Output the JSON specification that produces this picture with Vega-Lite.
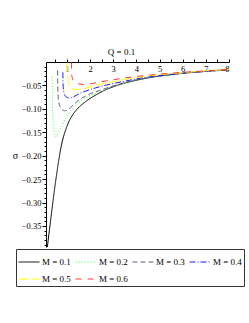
{
  "$schema": "https://vega.github.io/schema/vega-lite/v6.json",
  "autosize": {"type": "none"},
  "padding": {"left": 46, "top": 62, "right": 20, "bottom": 76},
  "width": 183,
  "height": 185,
  "background": "white",
  "title": {"text": "Q = 0.1", "font": "Liberation Serif", "fontSize": 9, "fontWeight": "normal", "color": "black", "dx": -16, "offset": 2},
  "data": {"values": [
    {"M": "M = 0.1", "r": 0.16, "s": -0.395},
    {"M": "M = 0.1", "r": 0.2, "s": -0.378},
    {"M": "M = 0.1", "r": 0.25, "s": -0.358},
    {"M": "M = 0.1", "r": 0.3, "s": -0.338},
    {"M": "M = 0.1", "r": 0.35, "s": -0.318},
    {"M": "M = 0.1", "r": 0.4, "s": -0.298},
    {"M": "M = 0.1", "r": 0.45, "s": -0.279},
    {"M": "M = 0.1", "r": 0.5, "s": -0.26},
    {"M": "M = 0.1", "r": 0.55, "s": -0.243},
    {"M": "M = 0.1", "r": 0.6, "s": -0.226},
    {"M": "M = 0.1", "r": 0.7, "s": -0.195},
    {"M": "M = 0.1", "r": 0.8, "s": -0.17},
    {"M": "M = 0.1", "r": 0.9, "s": -0.152},
    {"M": "M = 0.1", "r": 1.0, "s": -0.138},
    {"M": "M = 0.1", "r": 1.1, "s": -0.126},
    {"M": "M = 0.1", "r": 1.25, "s": -0.113},
    {"M": "M = 0.1", "r": 1.4, "s": -0.103},
    {"M": "M = 0.1", "r": 1.6, "s": -0.093},
    {"M": "M = 0.1", "r": 1.8, "s": -0.085},
    {"M": "M = 0.1", "r": 2.0, "s": -0.078},
    {"M": "M = 0.1", "r": 2.3, "s": -0.069},
    {"M": "M = 0.1", "r": 2.6, "s": -0.061},
    {"M": "M = 0.1", "r": 3.0, "s": -0.053},
    {"M": "M = 0.1", "r": 3.5, "s": -0.045},
    {"M": "M = 0.1", "r": 4.0, "s": -0.039},
    {"M": "M = 0.1", "r": 4.5, "s": -0.034},
    {"M": "M = 0.1", "r": 5.0, "s": -0.03},
    {"M": "M = 0.1", "r": 5.5, "s": -0.027},
    {"M": "M = 0.1", "r": 6.0, "s": -0.024},
    {"M": "M = 0.1", "r": 6.5, "s": -0.022},
    {"M": "M = 0.1", "r": 7.0, "s": -0.02},
    {"M": "M = 0.1", "r": 7.5, "s": -0.018},
    {"M": "M = 0.1", "r": 8.0, "s": -0.017},

    {"M": "M = 0.2", "r": 0.37, "s": -0.031},
    {"M": "M = 0.2", "r": 0.372, "s": -0.06},
    {"M": "M = 0.2", "r": 0.38, "s": -0.09},
    {"M": "M = 0.2", "r": 0.395, "s": -0.115},
    {"M": "M = 0.2", "r": 0.42, "s": -0.137},
    {"M": "M = 0.2", "r": 0.46, "s": -0.152},
    {"M": "M = 0.2", "r": 0.52, "s": -0.159},
    {"M": "M = 0.2", "r": 0.58, "s": -0.157},
    {"M": "M = 0.2", "r": 0.65, "s": -0.15},
    {"M": "M = 0.2", "r": 0.75, "s": -0.139},
    {"M": "M = 0.2", "r": 0.85, "s": -0.129},
    {"M": "M = 0.2", "r": 0.95, "s": -0.12},
    {"M": "M = 0.2", "r": 1.1, "s": -0.108},
    {"M": "M = 0.2", "r": 1.25, "s": -0.099},
    {"M": "M = 0.2", "r": 1.4, "s": -0.092},
    {"M": "M = 0.2", "r": 1.6, "s": -0.084},
    {"M": "M = 0.2", "r": 1.8, "s": -0.077},
    {"M": "M = 0.2", "r": 2.0, "s": -0.072},
    {"M": "M = 0.2", "r": 2.4, "s": -0.064},
    {"M": "M = 0.2", "r": 3.0, "s": -0.052},
    {"M": "M = 0.2", "r": 3.5, "s": -0.045},
    {"M": "M = 0.2", "r": 4.0, "s": -0.039},
    {"M": "M = 0.2", "r": 5.0, "s": -0.03},
    {"M": "M = 0.2", "r": 6.0, "s": -0.024},
    {"M": "M = 0.2", "r": 7.0, "s": -0.02},
    {"M": "M = 0.2", "r": 8.0, "s": -0.017},

    {"M": "M = 0.3", "r": 0.6, "s": -0.018},
    {"M": "M = 0.3", "r": 0.602, "s": -0.04},
    {"M": "M = 0.3", "r": 0.61, "s": -0.06},
    {"M": "M = 0.3", "r": 0.63, "s": -0.077},
    {"M": "M = 0.3", "r": 0.67, "s": -0.09},
    {"M": "M = 0.3", "r": 0.73, "s": -0.098},
    {"M": "M = 0.3", "r": 0.8, "s": -0.102},
    {"M": "M = 0.3", "r": 0.9, "s": -0.104},
    {"M": "M = 0.3", "r": 1.0, "s": -0.103},
    {"M": "M = 0.3", "r": 1.15, "s": -0.098},
    {"M": "M = 0.3", "r": 1.3, "s": -0.091},
    {"M": "M = 0.3", "r": 1.55, "s": -0.08},
    {"M": "M = 0.3", "r": 1.8, "s": -0.073},
    {"M": "M = 0.3", "r": 2.0, "s": -0.068},
    {"M": "M = 0.3", "r": 2.4, "s": -0.061},
    {"M": "M = 0.3", "r": 3.0, "s": -0.051},
    {"M": "M = 0.3", "r": 3.5, "s": -0.044},
    {"M": "M = 0.3", "r": 4.0, "s": -0.038},
    {"M": "M = 0.3", "r": 5.0, "s": -0.03},
    {"M": "M = 0.3", "r": 6.0, "s": -0.024},
    {"M": "M = 0.3", "r": 7.0, "s": -0.02},
    {"M": "M = 0.3", "r": 8.0, "s": -0.017},

    {"M": "M = 0.4", "r": 0.83, "s": -0.022},
    {"M": "M = 0.4", "r": 0.832, "s": -0.04},
    {"M": "M = 0.4", "r": 0.845, "s": -0.055},
    {"M": "M = 0.4", "r": 0.88, "s": -0.066},
    {"M": "M = 0.4", "r": 0.94, "s": -0.073},
    {"M": "M = 0.4", "r": 1.02, "s": -0.076},
    {"M": "M = 0.4", "r": 1.12, "s": -0.077},
    {"M": "M = 0.4", "r": 1.25, "s": -0.075},
    {"M": "M = 0.4", "r": 1.45, "s": -0.07},
    {"M": "M = 0.4", "r": 1.7, "s": -0.064},
    {"M": "M = 0.4", "r": 2.0, "s": -0.059},
    {"M": "M = 0.4", "r": 2.4, "s": -0.053},
    {"M": "M = 0.4", "r": 3.0, "s": -0.046},
    {"M": "M = 0.4", "r": 3.5, "s": -0.041},
    {"M": "M = 0.4", "r": 4.0, "s": -0.036},
    {"M": "M = 0.4", "r": 5.0, "s": -0.029},
    {"M": "M = 0.4", "r": 6.0, "s": -0.024},
    {"M": "M = 0.4", "r": 7.0, "s": -0.02},
    {"M": "M = 0.4", "r": 8.0, "s": -0.016},

    {"M": "M = 0.5", "r": 1.02, "s": -0.001},
    {"M": "M = 0.5", "r": 1.022, "s": -0.02},
    {"M": "M = 0.5", "r": 1.04, "s": -0.034},
    {"M": "M = 0.5", "r": 1.08, "s": -0.045},
    {"M": "M = 0.5", "r": 1.15, "s": -0.053},
    {"M": "M = 0.5", "r": 1.25, "s": -0.057},
    {"M": "M = 0.5", "r": 1.4, "s": -0.059},
    {"M": "M = 0.5", "r": 1.6, "s": -0.058},
    {"M": "M = 0.5", "r": 1.8, "s": -0.056},
    {"M": "M = 0.5", "r": 2.0, "s": -0.053},
    {"M": "M = 0.5", "r": 2.4, "s": -0.048},
    {"M": "M = 0.5", "r": 3.0, "s": -0.042},
    {"M": "M = 0.5", "r": 3.5, "s": -0.037},
    {"M": "M = 0.5", "r": 4.0, "s": -0.033},
    {"M": "M = 0.5", "r": 5.0, "s": -0.027},
    {"M": "M = 0.5", "r": 6.0, "s": -0.023},
    {"M": "M = 0.5", "r": 7.0, "s": -0.019},
    {"M": "M = 0.5", "r": 8.0, "s": -0.016},

    {"M": "M = 0.6", "r": 1.2, "s": -0.001},
    {"M": "M = 0.6", "r": 1.202, "s": -0.02},
    {"M": "M = 0.6", "r": 1.22, "s": -0.031},
    {"M": "M = 0.6", "r": 1.28, "s": -0.039},
    {"M": "M = 0.6", "r": 1.38, "s": -0.044},
    {"M": "M = 0.6", "r": 1.55, "s": -0.047},
    {"M": "M = 0.6", "r": 1.8, "s": -0.048},
    {"M": "M = 0.6", "r": 2.1, "s": -0.046},
    {"M": "M = 0.6", "r": 2.5, "s": -0.042},
    {"M": "M = 0.6", "r": 3.0, "s": -0.038},
    {"M": "M = 0.6", "r": 3.5, "s": -0.034},
    {"M": "M = 0.6", "r": 4.0, "s": -0.031},
    {"M": "M = 0.6", "r": 5.0, "s": -0.026},
    {"M": "M = 0.6", "r": 6.0, "s": -0.022},
    {"M": "M = 0.6", "r": 7.0, "s": -0.019},
    {"M": "M = 0.6", "r": 8.0, "s": -0.016}
  ]},
  "mark": {"type": "line", "interpolate": "monotone", "strokeWidth": 1, "clip": true},
  "encoding": {
    "x": {"field": "r", "type": "quantitative", "title": null,
      "scale": {"domain": [0.1, 8], "nice": false, "zero": false},
      "axis": {"orient": "top", "values": [0.5,1,1.5,2,2.5,3,3.5,4,4.5,5,5.5,6,6.5,7,7.5,8],
        "labelExpr": "datum.value % 1 == 0 ? format(datum.value, 'd') : ''", "grid": false,
        "tickSize": 3, "labelPadding": -5, "labelBaseline": "top", "labelOverlap": false,
        "domainColor": "black", "tickColor": "black", "labelColor": "black",
        "labelFont": "Liberation Serif", "labelFontSize": 8.5}},
    "y": {"field": "s", "type": "quantitative",
      "scale": {"domain": [-0.395, 0], "nice": false, "zero": false},
      "axis": {"orient": "left",
        "values": [-0.39,-0.38,-0.37,-0.36,-0.35,-0.34,-0.33,-0.32,-0.31,-0.3,-0.29,-0.28,-0.27,-0.26,-0.25,-0.24,-0.23,-0.22,-0.21,-0.2,-0.19,-0.18,-0.17,-0.16,-0.15,-0.14,-0.13,-0.12,-0.11,-0.1,-0.09,-0.08,-0.07,-0.06,-0.05,-0.04,-0.03,-0.02,-0.01],
        "labelExpr": "abs(round(datum.value*100)) % 5 == 0 ? format(datum.value, '.2f') : ''",
        "tickSize": {"condition": {"test": "abs(round(datum.value*100)) % 5 == 0", "value": 4}, "value": 2},
        "labelPadding": 1, "labelOverlap": false, "grid": false,
        "domainColor": "black", "tickColor": "black", "labelColor": "black",
        "labelFont": "Liberation Serif", "labelFontSize": 8.5,
        "title": "σ", "titleAngle": 0, "titleFont": "Liberation Serif", "titleFontSize": 10,
        "titleFontWeight": "normal", "titleColor": "black", "titleX": -31, "titleY": 93,
        "titleAlign": "center", "titleBaseline": "middle"}},
    "color": {"field": "M", "type": "nominal", "title": null,
      "scale": {"domain": ["M = 0.1","M = 0.2","M = 0.3","M = 0.4","M = 0.5","M = 0.6"],
        "range": ["#000000","#33ff33","#6e5a80","#1a1aff","#ffff00","#ff3333"]}},
    "strokeDash": {"field": "M", "type": "nominal", "title": null,
      "scale": {"domain": ["M = 0.1","M = 0.2","M = 0.3","M = 0.4","M = 0.5","M = 0.6"],
        "range": [[1,0],[1,2],[5,3],[6,2,1,2],[10,3],[6,6]]}}
  },
  "config": {
    "view": {"stroke": null},
    "legend": {"orient": "none", "legendX": -30, "legendY": 187, "direction": "horizontal", "columns": 4,
      "symbolType": "stroke", "symbolSize": 440, "symbolStrokeWidth": 1,
      "labelFont": "Liberation Serif", "labelFontSize": 9, "labelColor": "black", "labelOffset": 2,
      "columnPadding": 2, "rowPadding": 1, "padding": 2, "strokeColor": "#333333", "fillColor": "white"}
  }
}
